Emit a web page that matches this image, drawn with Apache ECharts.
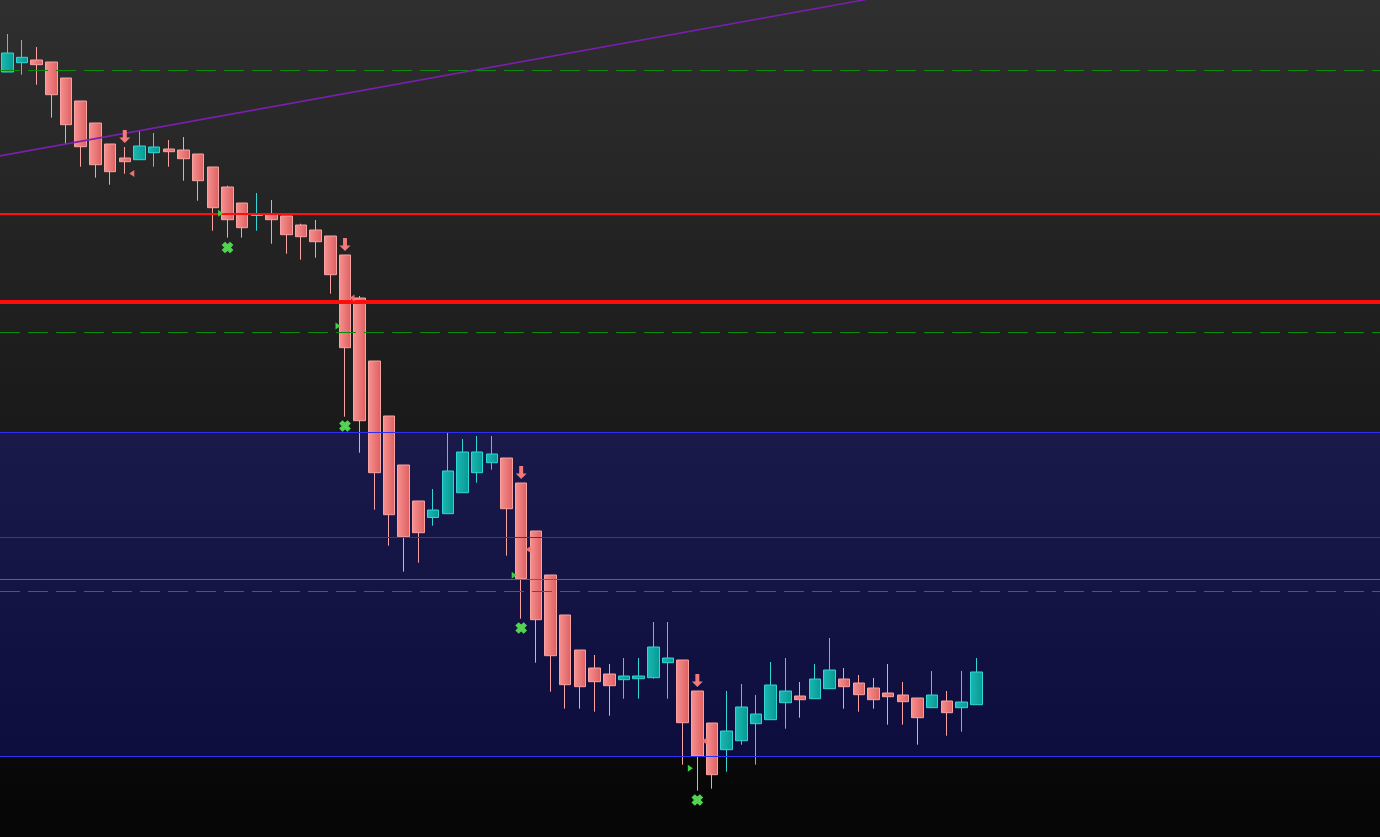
<!DOCTYPE html>
<html>
<head>
<meta charset="utf-8">
<script src="https://cdn.jsdelivr.net/npm/echarts@6/dist/echarts.min.js"></script>
<style>
html,body{margin:0;padding:0;background:#050505;}
#chart{width:1380px;height:837px;}
</style>
</head>
<body>
<div id="chart"></div>
<script>
// Price units (no axis shown in the reference): 0 = bottom of the chart, 837 = top.
const categoryCount = 94;
const opens  = [765,774.3,777,775,759,736,714,693,679,677.3,684.3,688,687,683,670,650,634,621.5,623,621,612,607,601,582,539,476,421,372,336,319.5,323.3,344.3,364.3,374.3,379,354,306,262,222,187,169,163,157.3,158.3,159.3,174.3,177,146,114,87.3,96.3,113.3,117.3,134.3,141,138.3,148.3,158,154,149,144,142,139,129.3,136,129.3,132.3];
const closes = [784,779.7,772.3,742.3,712.3,690.3,672.3,665.3,675.3,691,690,685.3,678.3,656.3,629.3,617.3,609.3,622.5,617.3,602.3,600.3,595.3,562.3,489.3,416.3,364.3,322.3,300.3,304.3,327,366,385,385,383,328.3,258.3,217.3,181.3,152.3,150.3,155.3,151.3,161,161,190,179,114.3,81,62.3,106,130,123,152,146,137.3,158,167,150.3,142.3,137.3,140.3,135.3,119.3,142,124.3,135,165];
const lows   = [765,762.3,752.3,719.3,693,670.3,659.3,652.3,663.3,677.3,670.3,670.3,656.3,636.3,606.3,599.3,599.3,606.3,593.3,583.3,577.3,579.3,543.3,420.3,384.3,327.3,291.3,265.3,274.3,311.3,323.3,344.3,354.3,367.3,281.3,218.3,174.3,145.3,128.3,128.3,125.3,121.3,138.3,138.3,158.3,138.3,72.3,46.3,48.3,65.3,92.3,72.3,117.3,108.3,119.3,138.3,148.3,128.3,125.3,128.3,112.3,112.3,92.3,129.3,101.3,105.3,132.3];
const highs  = [803,797,790,775,759,736,714,693,690,706,704,697,700,683,670,651.3,634,644,637,621,613.3,617,601,582,541,476,421,372,336,348,404,398,401,401,379,354,306,262,222,187,182,173,179,179,215,215,177,146,114,146,153,142,175,179,155,173,199,169,162,159,173,155,139,166,146,166,179];

// Horizontal levels
const greenDashLevels = [767, 505, 246];
const redThinLevel = 623;
const redThickLevel = 535;
const zoneTop = 405, zoneBottom = 81;
const purpleLevel = 300;
const maroonLevel = 258;

// Diagonal trend line (category index, price)
const trendIdx = [-1, 62];
const trendVal = [679.8, 846.8];

// Signals
const arrowIdx = [8, 23, 35, 47],  arrowVal = [700.5, 592.5, 364.5, 156.5];
const crossIdx = [15, 23, 35, 47], crossVal = [589.5, 411, 209, 37];
const buyTriIdx = [15, 23, 35, 47], buyTriVal = [623.7, 511, 261.7, 68.7];
const sellTriIdx = [8, 23, 35, 47], sellTriVal = [663.5, 539, 287.5, 96];

const categories = Array.from({length: categoryCount}, (_, i) => String(i + 1));
const candleData = opens.map((o, i) => [o, closes[i], lows[i], highs[i]]);
const zip = (a, b) => a.map((v, i) => [v, b[i]]);

const chart = echarts.init(document.getElementById('chart'));
const hiddenAxis = {axisLine:{show:false}, axisTick:{show:false}, axisLabel:{show:false}, splitLine:{show:false}};

const dashed = {color:'#0b8a0b', width:1, type:[20,8]};
const markLines = [
  ...greenDashLevels.map(v => ({yAxis: v, lineStyle: dashed})),
  {yAxis: redThinLevel, lineStyle: {color:'#ff1010', width:2, type:'solid'}},
  {yAxis: redThickLevel, lineStyle: {color:'#ff0d0d', width:4, type:'solid'}},
  {yAxis: zoneTop, lineStyle: {color:'#2e2ef5', width:1, type:'solid'}},
  {yAxis: zoneBottom, lineStyle: {color:'#2e2ef5', width:1, type:'solid'}},
  {yAxis: purpleLevel, lineStyle: {color:'#6c1aa6', width:1, type:'solid'}},
  {yAxis: maroonLevel, lineStyle: {color:'#9c4a55', width:1, type:'solid'}}
];

chart.setOption({
  animation: false,
  backgroundColor: {type:'linear', x:0, y:0, x2:0, y2:1, colorStops:[{offset:0,color:'#2f2f2f'},{offset:1,color:'#050505'}]},
  grid: {left:-2, top:0, width:1384, height:837, containLabel:false},
  xAxis: [
    Object.assign({type:'category', data:categories, boundaryGap:true}, hiddenAxis),
    Object.assign({type:'value', min:-0.5, max:categoryCount - 0.5}, hiddenAxis)
  ],
  yAxis: Object.assign({type:'value', min:0, max:837, scale:false}, hiddenAxis),
  series: [
    {
      type:'candlestick',
      data: candleData,
      barWidth: 12,
      z: 2,
      itemStyle: {
        color: new echarts.graphic.LinearGradient(0,0,1,0,[{offset:0,color:'#1bb9b3'},{offset:1,color:'#069890'}]),
        color0: new echarts.graphic.LinearGradient(0,0,1,0,[{offset:0,color:'#f79292'},{offset:1,color:'#dd5f5f'}]),
        borderColor: '#33d6d6',
        borderColor0: '#f8a2a2',
        borderWidth: 1
      },
      markArea: {
        silent: true,
        itemStyle: {color:'rgba(34,34,250,0.22)'},
        data: [[{yAxis: zoneBottom}, {yAxis: zoneTop}]]
      },
      markLine: {
        silent: true,
        symbol: ['none','none'],
        label: {show:false},
        animation:false,
        data: markLines
      }
    },
    {
      type:'line',
      xAxisIndex: 1,
      data: zip(trendIdx, trendVal),
      symbol:'none',
      z: 4,
      lineStyle: {color:'#7a1fb0', width:1.5}
    },
    {
      type:'scatter', z:6, silent:true,
      data: zip(arrowIdx, arrowVal),
      symbol:'path://M3.2,0 L6.8,0 L6.8,7 L10,7 L5,12 L0,7 L3.2,7 Z',
      symbolSize:[11,13],
      itemStyle:{color:'#f47a7a', opacity:1}
    },
    {
      type:'scatter', z:6, silent:true,
      data: zip(crossIdx, crossVal),
      symbol:'path://M0,3 L3,0 L6,3 L9,0 L12,3 L9,6 L12,9 L9,12 L6,9 L3,12 L0,9 L3,6 Z',
      symbolSize:10,
      itemStyle:{color:'#52d452', borderColor:'#52d452', borderWidth:1.2, opacity:1}
    },
    {
      type:'scatter', z:6, silent:true,
      data: zip(buyTriIdx, buyTriVal),
      symbol:'path://M0,0 L6,4 L0,8 Z',
      symbolSize:[5,7],
      symbolOffset:[-7,0],
      itemStyle:{color:'#3fd23f', opacity:1}
    },
    {
      type:'scatter', z:6, silent:true,
      data: zip(sellTriIdx, sellTriVal),
      symbol:'path://M6,0 L0,4 L6,8 Z',
      symbolSize:[5,7],
      symbolOffset:[7,0],
      itemStyle:{color:'#f07070', opacity:1}
    }
  ]
});
</script>
</body>
</html>
